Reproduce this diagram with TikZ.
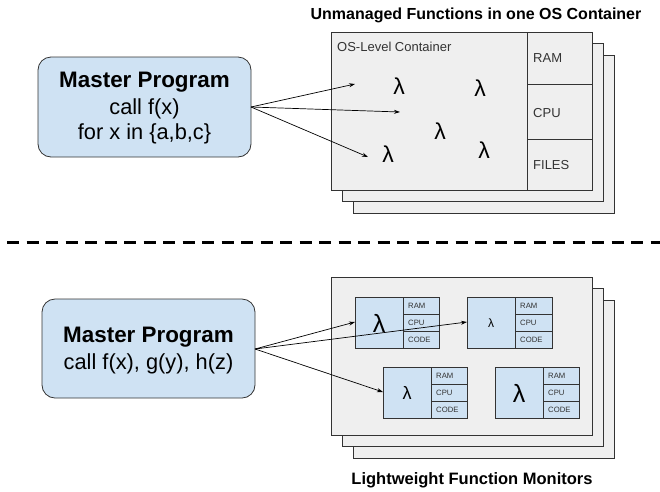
\documentclass[tikz,border=0pt]{standalone}
\usepackage{fontspec}
\setmainfont{Liberation Sans}
\usetikzlibrary{arrows.meta}
\definecolor{lblue}{HTML}{CFE2F3}
\definecolor{lgray}{HTML}{EFEFEF}
\definecolor{edge}{HTML}{333333}
\begin{document}
\begin{tikzpicture}[x=1pt,y=-1pt,
  master/.style={draw=edge,fill=lblue,rounded corners=13pt,line width=0.8pt},
  contbox/.style={draw=edge,fill=lgray,line width=0.8pt},
  cellbox/.style={draw=edge,fill=lblue,line width=0.8pt},
  arr/.style={-{Stealth[length=6pt,width=4pt]},line width=0.7pt,black},
  lam/.style={inner sep=0pt,anchor=center},
  lbl/.style={font=\fontsize{13}{15}\selectfont,anchor=west,inner sep=0pt,text=edge},
  small/.style={font=\fontsize{7.7}{9}\selectfont,anchor=west,inner sep=0pt,text=edge}
]
\useasboundingbox (0,0) rectangle (660,491);

% ---------- top ----------
\node[font=\bfseries\fontsize{16}{18}\selectfont] (t1) at (476,15) {Unmanaged Functions in one OS Container};

\draw[master] (38,57) rectangle (251,157);
\node[font=\bfseries\fontsize{22.4}{24}\selectfont] (m1a) at (144.5,82) {Master Program};
\node[font=\fontsize{21.8}{24}\selectfont] (m1b) at (144.5,109) {call f(x)};
\node[font=\fontsize{21.8}{24}\selectfont] (m1c) at (144.5,134) {for x in \{a,b,c\}};
\coordinate (s1) at (251,107);

\draw[contbox] (353,55) rectangle (614,213);
\draw[contbox] (342,43) rectangle (603,201);
\draw[contbox] (331,32) rectangle (592,190);
\draw[edge,line width=0.8pt] (527,32) -- (527,190);
\draw[edge,line width=0.8pt] (527,84) -- (592,84);
\draw[edge,line width=0.8pt] (527,139) -- (592,139);
\node[lbl] (osl) at (337,47) {OS-Level Container};
\node[lbl] (ram1) at (533,58) {RAM};
\node[lbl] (cpu1) at (533,113) {CPU};
\node[lbl] (fil1) at (533,165) {FILES};

\node[lam,font=\fontsize{23}{25}\selectfont] (l1) at (399,86) {λ};
\node[lam,font=\fontsize{23}{25}\selectfont] (l2) at (480,88) {λ};
\node[lam,font=\fontsize{23}{25}\selectfont] (l3) at (440,131) {λ};
\node[lam,font=\fontsize{23}{25}\selectfont] (l4) at (388,154) {λ};
\node[lam,font=\fontsize{23}{25}\selectfont] (l5) at (484,150) {λ};

\coordinate (e1) at (355,84);
\coordinate (e2) at (400,112);
\coordinate (e3) at (368,157);
\draw[arr] (s1) -- (e1);
\draw[arr] (s1) -- (e2);
\draw[arr] (s1) -- (e3);

% ---------- separator ----------
\coordinate (d0) at (7,242);
\coordinate (d1) at (660,242);
\draw[line width=3pt,dash pattern=on 12pt off 7.5pt] (d0) -- (d1);

% ---------- bottom ----------
\draw[master] (42,299) rectangle (255,398);
\node[font=\bfseries\fontsize{22.4}{24}\selectfont] (m2a) at (148.5,337) {Master Program};
\node[font=\fontsize{21.8}{24}\selectfont] (m2b) at (148.5,364) {call f(x), g(y), h(z)};
\coordinate (s2) at (255,349);

\draw[contbox] (353,300) rectangle (614,458);
\draw[contbox] (342,288) rectangle (603,446);
\draw[contbox] (331,277) rectangle (592,435);

\foreach \xa/\xd/\xb/\ya/\yb in {355/403/439/297/348, 467/515/552/297/348, 383/431/467/367/418, 495/543/579/367/418}{
  \draw[cellbox] (\xa,\ya) rectangle (\xb,\yb);
  \draw[edge,line width=0.8pt] (\xd,\ya) -- (\xd,\yb);
  \pgfmathsetmacro{\ha}{\ya+(\yb-\ya)/3}
  \pgfmathsetmacro{\hb}{\ya+2*(\yb-\ya)/3}
  \draw[edge,line width=0.8pt] (\xd,\ha) -- (\xb,\ha);
  \draw[edge,line width=0.8pt] (\xd,\hb) -- (\xb,\hb);
}
\foreach \xd/\ya/\n in {403/297/a, 515/297/b, 431/367/c, 543/367/d}{
  \node[small] (ram\n) at (\xd+5,\ya+8.5) {RAM};
  \node[small] (cpu\n) at (\xd+5,\ya+25.5) {CPU};
  \node[small] (code\n) at (\xd+5,\ya+42.5) {CODE};
}
\node[lam,font=\fontsize{25}{27}\selectfont] (la) at (379,323) {λ};
\node[lam,font=\fontsize{12}{14}\selectfont] (lb) at (491,323) {λ};
\node[lam,font=\fontsize{18}{20}\selectfont] (lc) at (407,393) {λ};
\node[lam,font=\fontsize{25}{27}\selectfont] (ld) at (519,393) {λ};

\coordinate (f1) at (355,322);
\coordinate (f2) at (467,322);
\coordinate (f3) at (383,392);
\draw[arr] (s2) -- (f1);
\draw[arr] (s2) -- (f2);
\draw[arr] (s2) -- (f3);

\node[font=\bfseries\fontsize{16.5}{18}\selectfont] (t2) at (472,480) {Lightweight Function Monitors};
\end{tikzpicture}
\end{document}
